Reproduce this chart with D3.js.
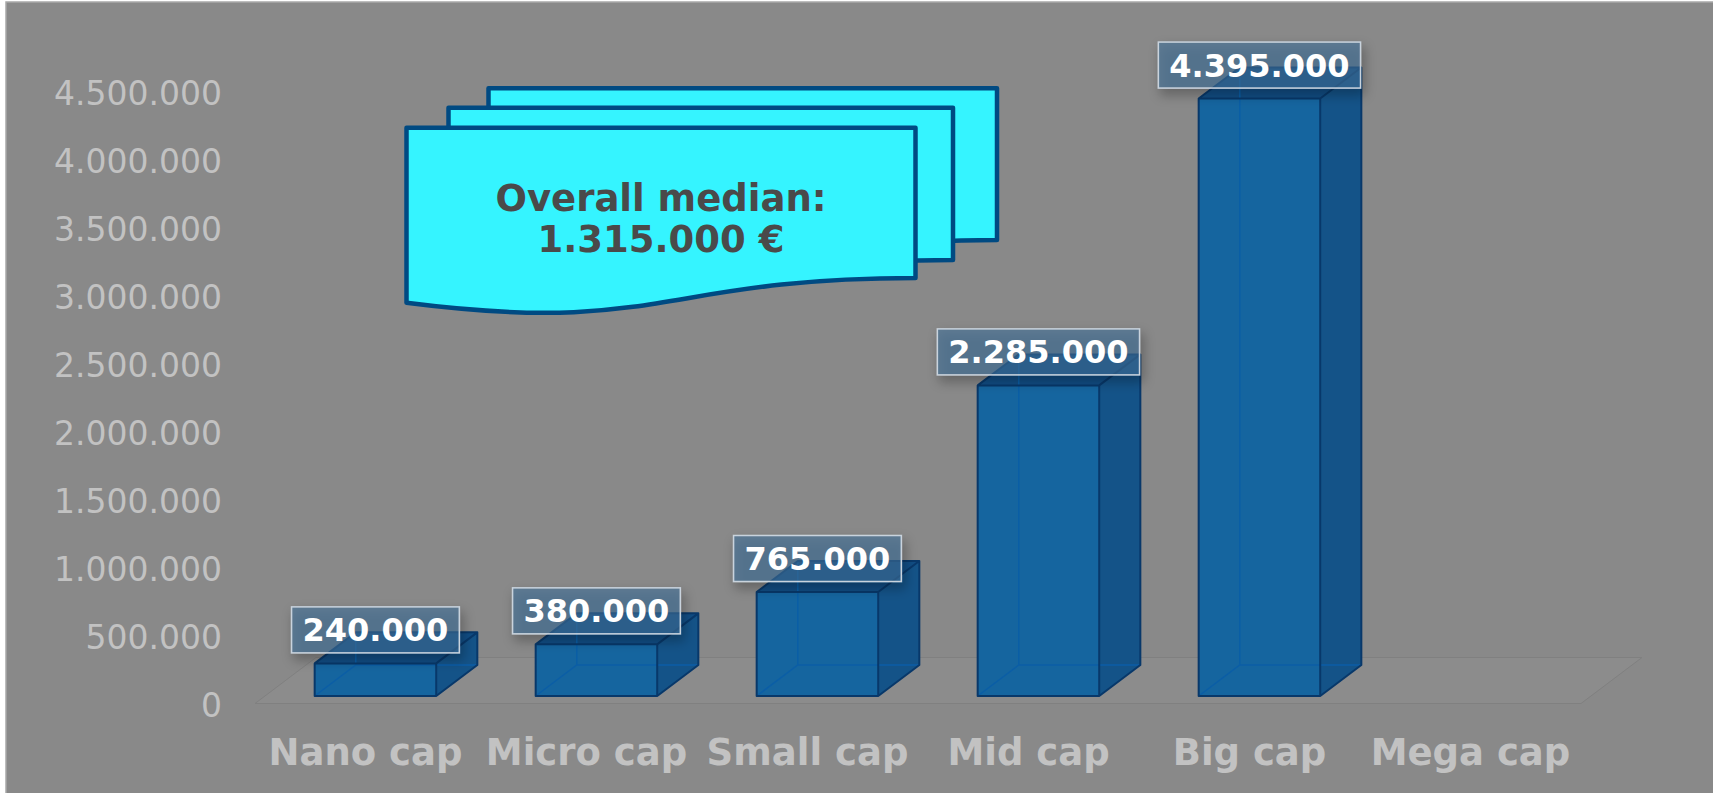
<!DOCTYPE html>
<html>
<head>
<meta charset="utf-8">
<script src="https://cdn.jsdelivr.net/npm/d3@7"></script>
<style>
  html, body { margin: 0; padding: 0; background: #ffffff; }
  svg { display: block; }
</style>
</head>
<body>
<svg id="chart" width="1713" height="793"></svg>
<script>
// Median value per market-cap class (EUR)
const categories = ["Nano cap", "Micro cap", "Small cap", "Mid cap", "Big cap", "Mega cap"];
const medianValues = [240000, 380000, 765000, 2285000, 4395000, null];
const tickValues = [0, 500000, 1000000, 1500000, 2000000, 2500000, 3000000, 3500000, 4000000, 4500000];
const overallMedian = 1315000;
const calloutTitle = "Overall median:";

const W = 1713, H = 793;
const svg = d3.select("#chart");

// German-style number format: 4.500.000
const locale = d3.formatLocale({ decimal: ",", thousands: ".", grouping: [3], currency: ["", " €"] });
const fmt = locale.format(",d");

// ---- 3D projection helpers ----
const floorFrontY = 703.5;
const depth = { dx: 61, dy: -46 };      // screen offset of the full floor depth
const barDepth = [0.163, 0.837];         // bars sit in the middle of the floor depth

const x = d3.scaleBand().domain(categories).range([255, 1581]).paddingInner(0.45).paddingOuter(0.225);
const y = d3.scaleLinear().domain([0, 4500000]).range([floorFrontY, floorFrontY - 611.7]);

function pt(px, v, z) { return [px + z * depth.dx, y(v) + z * depth.dy]; }

// ---- defs ----
const defs = svg.append("defs");
const sh = defs.append("filter").attr("id", "lblShadow")
  .attr("x", "-30%").attr("y", "-50%").attr("width", "160%").attr("height", "220%");
sh.append("feDropShadow").attr("dx", 3).attr("dy", 6).attr("stdDeviation", 6)
  .attr("flood-color", "#000").attr("flood-opacity", 0.45);

// ---- background panel ----
svg.append("rect").attr("x", 6).attr("y", 2).attr("width", W).attr("height", H)
  .attr("fill", "#898989").attr("stroke", "#a8a8a8").attr("stroke-width", 1.5);

// ---- floor ----
const fl = [pt(255, 0, 0), pt(1581, 0, 0), pt(1581, 0, 1), pt(255, 0, 1)];
svg.append("polygon").attr("points", fl.map(p => p.join(",")).join(" "))
  .attr("fill", "#8c8c8c").attr("stroke", "#808080").attr("stroke-width", 1);

// ---- bars ----
const data = categories.map((c, i) => ({ cat: c, value: medianValues[i] })).filter(d => d.value != null);
const [z0, z1] = barDepth;
const poly = pts => pts.map(p => p.join(",")).join(" ");

const bars = svg.append("g").attr("class", "bars");
data.forEach(d => {
  const xl = x(d.cat), xr = x(d.cat) + x.bandwidth();
  const g = bars.append("g");
  const fBL = pt(xl, 0, z0), fBR = pt(xr, 0, z0), fTR = pt(xr, d.value, z0), fTL = pt(xl, d.value, z0);
  const bBL = pt(xl, 0, z1), bBR = pt(xr, 0, z1), bTR = pt(xr, d.value, z1), bTL = pt(xl, d.value, z1);
  // front
  g.append("polygon").attr("points", poly([fBL, fBR, fTR, fTL]))
    .attr("fill", "#0f63a0").attr("fill-opacity", 0.95);
  // right side
  g.append("polygon").attr("points", poly([fBR, bBR, bTR, fTR]))
    .attr("fill", "#0e5088").attr("fill-opacity", 0.95);
  // top
  g.append("polygon").attr("points", poly([fTL, fTR, bTR, bTL]))
    .attr("fill", "#0b4a84").attr("fill-opacity", 0.95);
  // hidden edges seen through the translucent box
  g.append("path")
    .attr("d", `M${fBL}L${bBL}L${bBR}M${bBL}L${bTL}`)
    .attr("fill", "none").attr("stroke", "#0b5ea6").attr("stroke-width", 1.5);
  // visible outline
  g.append("path")
    .attr("d", `M${fBL}L${fBR}L${fTR}L${fTL}ZM${fBR}L${bBR}L${bTR}L${fTR}M${fTL}L${bTL}L${bTR}`)
    .attr("fill", "none").attr("stroke", "#08386a").attr("stroke-width", 2).attr("stroke-linejoin", "round");
});

// ---- data labels ----
const labels = svg.append("g").attr("class", "labels");
data.forEach(d => {
  const cx = x(d.cat) + x.bandwidth() / 2 + z0 * depth.dx;
  const cy = pt(0, d.value, z0)[1] - 33.5;
  const g = labels.append("g");
  const box = g.append("rect");
  const t = g.append("text").attr("x", cx).attr("y", cy).attr("dy", "0.36em")
    .attr("text-anchor", "middle")
    .style("font-family", "'DejaVu Sans', sans-serif").style("font-weight", "bold")
    .style("font-size", "32px").attr("fill", "#ffffff").text(fmt(d.value));
  const w = t.node().getComputedTextLength() + 22, h = 46;
  box.attr("x", cx - w / 2).attr("y", cy - h / 2).attr("width", w).attr("height", h)
    .attr("fill", "rgb(63,110,153)").attr("fill-opacity", 0.56)
    .attr("stroke", "#c9d3dd").attr("stroke-width", 1.5)
    .attr("filter", "url(#lblShadow)");
});

// ---- value axis ----
const yAxis = d3.axisLeft(y).tickValues(tickValues).tickFormat(fmt).tickSize(0).tickPadding(0);
const ya = svg.append("g").attr("transform", "translate(222,2)").call(yAxis);
ya.select(".domain").remove();
ya.selectAll("text")
  .style("font-family", "'DejaVu Sans', sans-serif").style("font-size", "33px")
  .attr("fill", "#c2c2c2");

// ---- category axis ----
const xa = svg.append("g").attr("transform", "translate(0,752)")
  .call(d3.axisBottom(x).tickSize(0).tickPadding(0));
xa.select(".domain").remove();
xa.selectAll("text").attr("dy", "0.36em")
  .style("font-family", "'DejaVu Sans', sans-serif").style("font-weight", "bold")
  .style("font-size", "37px").attr("fill", "#c2c2c2");

// ---- overall median callout (stacked documents) ----
function docPath(x0, y0, w, h) {
  return `M${x0},${y0}L${x0 + w},${y0}L${x0 + w},${y0 + 0.802 * h}` +
    `C${x0 + 0.5 * w},${y0 + 0.802 * h} ${x0 + 0.5 * w},${y0 + 1.1075 * h} ${x0},${y0 + 0.934 * h}Z`;
}
const docs = [
  { x: 488.5, y: 88.3, w: 508.5, h: 189 },
  { x: 448.5, y: 107.7, w: 504.5, h: 190 },
  { x: 406.5, y: 127.7, w: 509, h: 187.5 }
];
const co = svg.append("g").attr("class", "callout");
co.selectAll("path").data(docs).join("path")
  .attr("d", d => docPath(d.x, d.y, d.w, d.h))
  .attr("fill", "#35f4ff").attr("stroke", "#004a82").attr("stroke-width", 4.5)
  .attr("stroke-linejoin", "round");
const front = docs[docs.length - 1];
const ccx = front.x + front.w / 2;
const lines = [calloutTitle, fmt(overallMedian) + " €"];
co.selectAll("text").data(lines).join("text")
  .attr("x", ccx).attr("y", (d, i) => 198 + i * 41).attr("dy", "0.36em")
  .attr("text-anchor", "middle")
  .style("font-family", "'DejaVu Sans', sans-serif").style("font-weight", "bold")
  .style("font-size", "37px").attr("fill", "#4a4a4a").text(d => d);
</script>
</body>
</html>
